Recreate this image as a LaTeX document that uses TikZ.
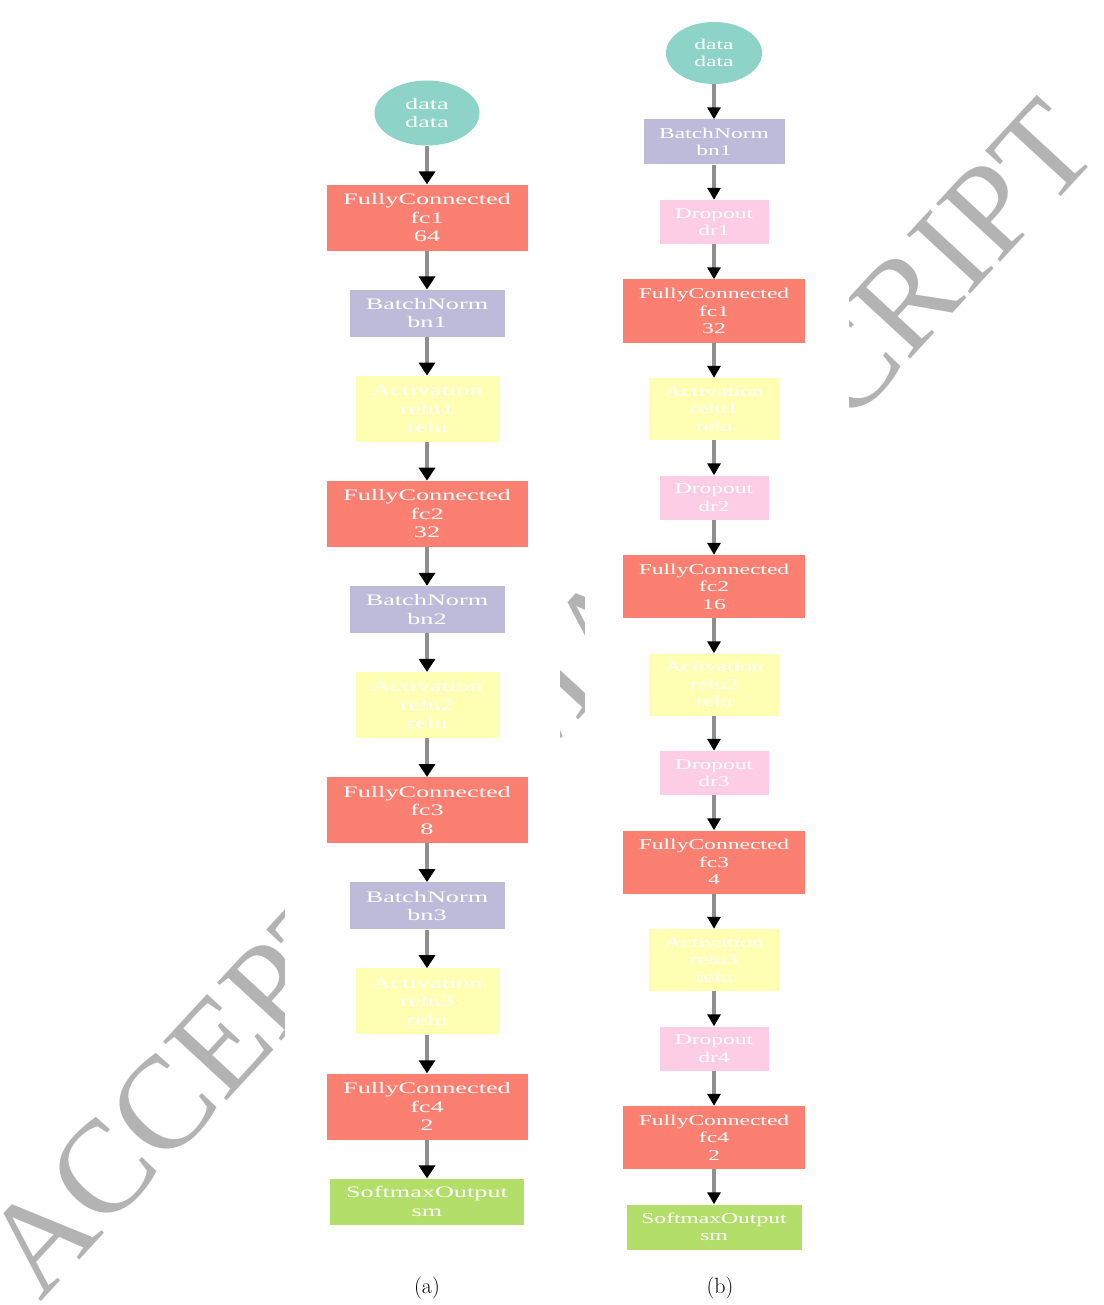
\documentclass[tikz,border=0pt]{standalone}
\usepackage{fontspec}
\usetikzlibrary{positioning,shapes.geometric,arrows.meta}
\newfontfamily\layerfont[FakeStretch=1.64]{Liberation Serif}
\newfontfamily\layerfontb[FakeStretch=1.57]{Liberation Serif}
\newfontfamily\stampfont{Liberation Serif}
\definecolor{datateal}{HTML}{8DD3C7}
\definecolor{fcred}{HTML}{FB8072}
\definecolor{bnpurple}{HTML}{BEBADA}
\definecolor{actyellow}{HTML}{FFFFB3}
\definecolor{drpink}{HTML}{FCCDE5}
\definecolor{smgreen}{HTML}{B3DE69}
\definecolor{edgegray}{HTML}{8F8F8F}
\definecolor{stampgray}{HTML}{B3B3B3}
\begin{document}
\begin{tikzpicture}[x=1pt, y=1pt, line join=round,
    netnode/.style={rectangle, inner sep=1pt, text=white, align=center},
    datanode/.style={netnode, ellipse, fill=datateal},
    fcnode/.style={netnode, fill=fcred},
    bnnode/.style={netnode, fill=bnpurple},
    actnode/.style={netnode, fill=actyellow},
    drnode/.style={netnode, fill=drpink},
    smnode/.style={netnode, fill=smgreen}]
    \useasboundingbox[fill=white] (0,0) rectangle (1103,-1305);
    % watermark, hidden behind the two figures
    \node[anchor=base west, rotate=47.3, inner sep=0, text=stampgray,
          font=\stampfont\fontsize{132}{132}\selectfont]
          (stamp) at (40,-1303) {ACCEPTED MANUSCRIPT};
    \fill[white] (285,-40) rectangle (560,-1262);
    \fill[white] (585,0) rectangle (849,-1262);
    % (a)
    \begin{scope}[node distance=38.7pt, font=\layerfont\fontsize{16}{18.5}\selectfont,
        datanode/.append style={minimum width=105pt, minimum height=65pt},
        fcnode/.append style={minimum width=201pt, minimum height=66pt},
        bnnode/.append style={minimum width=155pt, minimum height=47pt},
        actnode/.append style={minimum width=143pt, minimum height=66pt},
        smnode/.append style={minimum width=194pt, minimum height=46pt},
        flow/.style={draw=edgegray, line width=4.5pt,
            -{Triangle[width=16pt, length=13pt, color=black]}}]
        \node[datanode] (adata) at (427,-113) {data\\data};
        \node[fcnode, below=of adata] (afc1) {FullyConnected\\fc1\\64};
        \node[bnnode, below=of afc1] (abn1) {BatchNorm\\bn1};
        \node[actnode, below=of abn1] (arelu1) {Activation\\relu1\\relu};
        \node[fcnode, below=of arelu1] (afc2) {FullyConnected\\fc2\\32};
        \node[bnnode, below=of afc2] (abn2) {BatchNorm\\bn2};
        \node[actnode, below=of abn2] (arelu2) {Activation\\relu2\\relu};
        \node[fcnode, below=of arelu2] (afc3) {FullyConnected\\fc3\\8};
        \node[bnnode, below=of afc3] (abn3) {BatchNorm\\bn3};
        \node[actnode, below=of abn3] (arelu3) {Activation\\relu3\\relu};
        \node[fcnode, below=of arelu3] (afc4) {FullyConnected\\fc4\\2};
        \node[smnode, below=of afc4] (asm) {SoftmaxOutput\\sm};
        \foreach \s/\t in {adata/afc1, afc1/abn1, abn1/arelu1, arelu1/afc2,
            afc2/abn2, abn2/arelu2, arelu2/afc3, afc3/abn3, abn3/arelu3,
            arelu3/afc4, afc4/asm}
            \draw[flow] (\s) -- (\t);
    \end{scope}
    % (b)
    \begin{scope}[node distance=35.1pt, font=\layerfontb\fontsize{15}{17.5}\selectfont,
        datanode/.append style={minimum width=96pt, minimum height=62pt},
        fcnode/.append style={minimum width=182pt, minimum height=63pt},
        bnnode/.append style={minimum width=141pt, minimum height=45pt},
        drnode/.append style={minimum width=109pt, minimum height=44pt},
        actnode/.append style={minimum width=130pt, minimum height=62pt},
        smnode/.append style={minimum width=175pt, minimum height=45pt},
        flow/.style={draw=edgegray, line width=4pt,
            -{Triangle[width=13pt, length=12pt, color=black]}}]
        \node[datanode] (bdata) at (714,-53) {data\\data};
        \node[bnnode, below=of bdata] (bbn1) {BatchNorm\\bn1};
        \node[drnode, below=of bbn1] (bdr1) {Dropout\\dr1};
        \node[fcnode, below=of bdr1] (bfc1) {FullyConnected\\fc1\\32};
        \node[actnode, below=of bfc1] (brelu1) {Activation\\relu1\\relu};
        \node[drnode, below=of brelu1] (bdr2) {Dropout\\dr2};
        \node[fcnode, below=of bdr2] (bfc2) {FullyConnected\\fc2\\16};
        \node[actnode, below=of bfc2] (brelu2) {Activation\\relu2\\relu};
        \node[drnode, below=of brelu2] (bdr3) {Dropout\\dr3};
        \node[fcnode, below=of bdr3] (bfc3) {FullyConnected\\fc3\\4};
        \node[actnode, below=of bfc3] (brelu3) {Activation\\relu3\\relu};
        \node[drnode, below=of brelu3] (bdr4) {Dropout\\dr4};
        \node[fcnode, below=of bdr4] (bfc4) {FullyConnected\\fc4\\2};
        \node[smnode, below=of bfc4] (bsm) {SoftmaxOutput\\sm};
        \foreach \s/\t in {bdata/bbn1, bbn1/bdr1, bdr1/bfc1, bfc1/brelu1,
            brelu1/bdr2, bdr2/bfc2, bfc2/brelu2, brelu2/bdr3, bdr3/bfc3,
            bfc3/brelu3, brelu3/bdr4, bdr4/bfc4, bfc4/bsm}
            \draw[flow] (\s) -- (\t);
    \end{scope}
    \path[font=\fontsize{22}{26}\selectfont]
        (427,-1288) node (alabel) {(a)}
        (720,-1288) node (blabel) {(b)};
\end{tikzpicture}
\end{document}
